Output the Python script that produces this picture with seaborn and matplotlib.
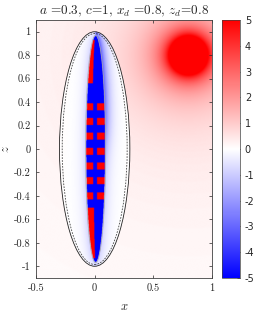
import numpy as np
import matplotlib
matplotlib.use('Agg')
import matplotlib.pyplot as plt
import seaborn as sns
from matplotlib.patches import Ellipse

# Parameters (from the title)
a, c = 0.3, 1.0
xd, zd = 0.8, 0.8

# Red source disc and its glow
src_radius = 0.17
glow_power = 1.5

# Inner needle and the red patches inside it
needle_x0, needle_a, needle_c = 0.008, 0.08, 0.965
stripe_z = [0.36, 0.235, 0.11, -0.02, -0.145, -0.27, -0.40]
stripe_half = 0.03
left_col = [-0.075, -0.012]
right_col = [0.02, 0.085]
top_wedge_z = [0.56, 0.93]
bottom_wedge_z = [-0.93, -0.50]

xticks = [-0.5, 0, 0.5, 1]
xticklabels = ['-0.5', '0', '0.5', '1']
yticks = [1, 0.8, 0.6, 0.4, 0.2, 0, -0.2, -0.4, -0.6, -0.8, -1]
yticklabels = ['1', '0.8', '0.6', '0.4', '0.2', '0', '-0.2', '-0.4', '-0.6', '-0.8', '-1']
cbar_ticks = [5, 4, 3, 2, 1, 0, -1, -2, -3, -4, -5]

# Field on a grid
xs = np.linspace(-0.5, 1.0, 600)
zs = np.linspace(-1.1, 1.1, 880)
X, Z = np.meshgrid(xs, zs)

r = np.hypot(X - xd, Z - zd)
field = 5 * (src_radius / np.maximum(r, 1e-6)) ** glow_power

inside_outer = (X / a) ** 2 + (Z / c) ** 2 < 1
field[inside_outer] *= 0.1

w = needle_a * np.sqrt(np.clip(1 - (Z / needle_c) ** 2, 0, None))
dx = np.abs(X - needle_x0) - w
# stronger haze on the upper right flank, fading smoothly downward
upper_right = (X > needle_x0) / (1 + np.exp(-(Z - 0.1) / 0.12))
haze_amp = 1.0 + 2.5 * upper_right
haze = -haze_amp * np.exp(-np.clip(dx, 0, None) / 0.045)
field = np.where(inside_outer, field + haze, field)

in_needle = (np.abs(Z) < needle_c) & (dx <= 0)
needle_val = np.full_like(field, -5.0)
for s in stripe_z:
    band = np.abs(Z - s) < stripe_half
    cols = ((X > left_col[0]) & (X < left_col[1])) | ((X > right_col[0]) & (X < right_col[1]))
    needle_val[band & cols] = 5.0
top = (Z > top_wedge_z[0]) & (Z < top_wedge_z[1]) & (X - needle_x0 < -0.35 * w)
bot = (Z > bottom_wedge_z[0]) & (Z < bottom_wedge_z[1]) & (X - needle_x0 < -0.2 * w)
needle_val[top | bot] = 5.0
field = np.where(in_needle, needle_val, field)
field = np.clip(field, -5, 5)

# Plot
sns.set_style('ticks')
plt.rcParams['mathtext.fontset'] = 'cm'
plt.rcParams['axes.unicode_minus'] = False
cmap = sns.blend_palette(['#0000ff', '#ffffff', '#ff0000'], as_cmap=True)

fig = plt.figure(figsize=(2.55, 3.12), dpi=100)
ax = fig.add_axes([36 / 255, 1 - 278 / 312, 176 / 255, 258 / 312])
cax = fig.add_axes([222 / 255, 1 - 278 / 312, 18 / 255, 258 / 312])

im = ax.imshow(field, extent=[-0.5, 1.0, -1.1, 1.1], origin='lower',
               cmap=cmap, vmin=-5, vmax=5, interpolation='bilinear', aspect='equal')

ax.add_patch(Ellipse((0, 0), 2 * a, 2 * c, fill=False, ec='#222222', lw=0.6))
ax.add_patch(Ellipse((0, 0), 2 * 0.277, 2 * 0.985, fill=False, ec='#444444',
                     lw=0.6, ls=(0, (2, 1.5))))
ax.add_patch(Ellipse((needle_x0, 0), 2 * (needle_a + 0.006), 2 * (needle_c + 0.005),
                     fill=False, ec='#aaaaaa', lw=0.5))

ax.set_xlim(-0.5, 1.0)
ax.set_ylim(-1.1, 1.1)
ax.set_xticks(xticks)
ax.set_xticklabels(xticklabels, fontfamily='cmr10', fontsize=7.5)
ax.set_yticks(yticks)
ax.set_yticklabels(yticklabels, fontfamily='cmr10', fontsize=7.5)
ax.tick_params(direction='in', length=2.5, width=0.5, top=True, right=True,
               colors='#262626', pad=4)
for sp in ax.spines.values():
    sp.set_visible(True)
    sp.set_linewidth(0.6)
    sp.set_color('#404040')

ax.set_xlabel('$x$', fontsize=9)
ax.xaxis.set_label_coords(0.5, -0.085)
ax.set_ylabel('$z$', fontsize=9)
ax.yaxis.set_label_coords(-0.135, 0.5)
ax.set_title('$a$ =0.3, $c$=1, $x_d$ =0.8, $z_d$=0.8', fontsize=9.5,
             fontfamily='cmr10', pad=4)

cb = fig.colorbar(im, cax=cax)
cb.set_ticks(cbar_ticks)
cb.set_ticklabels([str(t) for t in cbar_ticks])
cb.ax.tick_params(direction='in', length=2, width=0.5, labelsize=7, colors='#262626')
cb.outline.set_linewidth(0.5)
cb.outline.set_edgecolor('#404040')

fig.savefig('out.png', dpi=100)
